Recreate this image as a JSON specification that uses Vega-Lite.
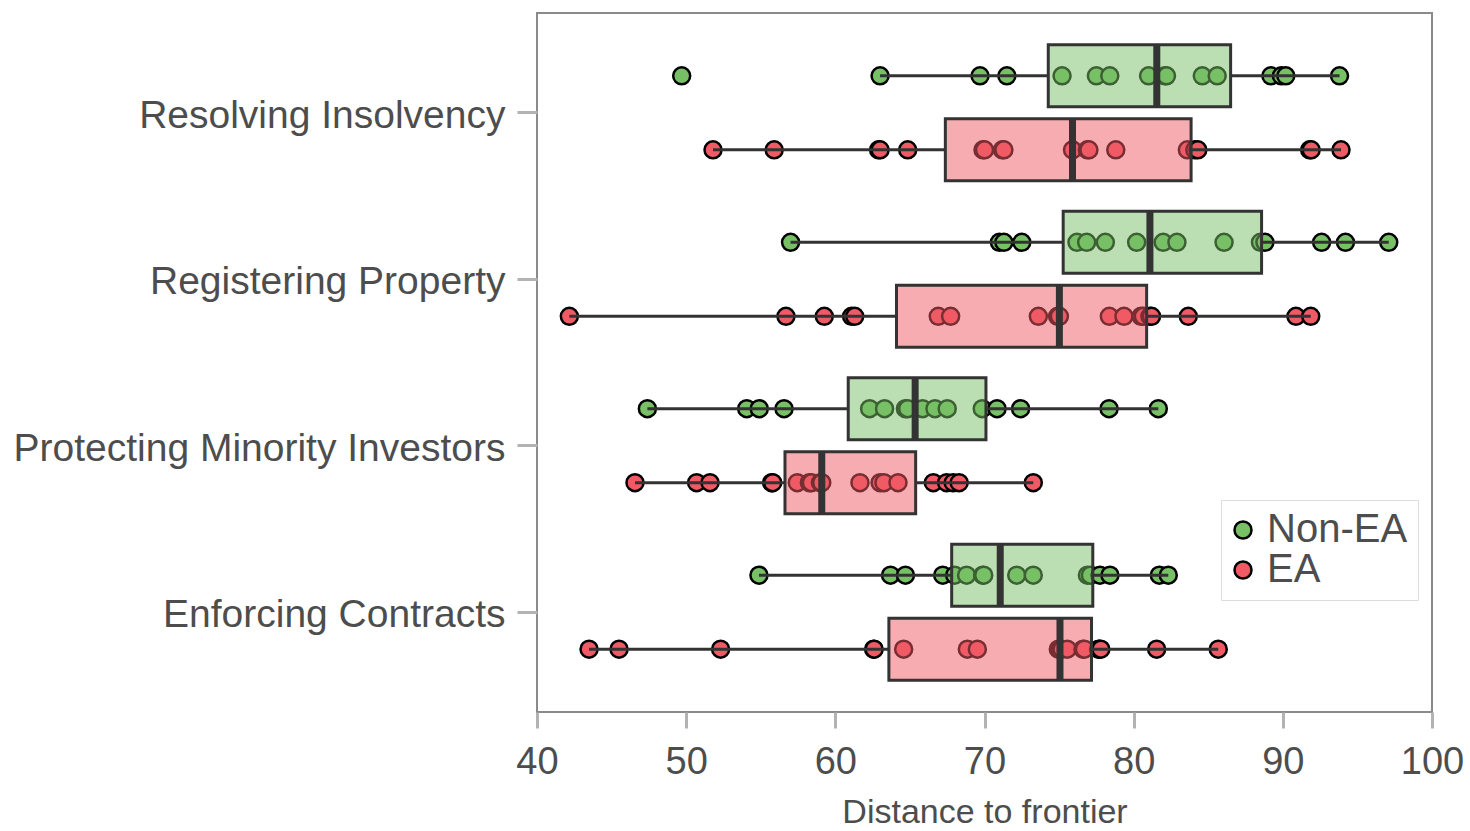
{
  "$schema": "https://vega.github.io/schema/vega-lite/v6.json",
  "autosize": {"type": "none"},
  "width": 895,
  "height": 699,
  "padding": {"left": 537, "top": 13, "right": 38, "bottom": 119},
  "background": "white",
  "config": {
    "font": "Liberation Sans",
    "view": {"stroke": "#8a8a8a", "strokeWidth": 2},
    "axis": {"grid": false, "domain": false, "tickColor": "#b3b3b3", "tickWidth": 3, "labelColor": "#4d4d4d", "labelFontSize": 38, "labelFont": "Liberation Sans", "labelLimit": 0, "labelFlush": false, "titleColor": "#4d4d4d", "titleFont": "Liberation Sans", "titleFontWeight": "normal"}
  },
  "data": {"values": [
    {"indicator": "Resolving Insolvency", "group": "Non-EA", "value": 49.7},
    {"indicator": "Resolving Insolvency", "group": "Non-EA", "value": 63.0},
    {"indicator": "Resolving Insolvency", "group": "Non-EA", "value": 69.7},
    {"indicator": "Resolving Insolvency", "group": "Non-EA", "value": 71.5},
    {"indicator": "Resolving Insolvency", "group": "Non-EA", "value": 75.2},
    {"indicator": "Resolving Insolvency", "group": "Non-EA", "value": 77.5},
    {"indicator": "Resolving Insolvency", "group": "Non-EA", "value": 78.4},
    {"indicator": "Resolving Insolvency", "group": "Non-EA", "value": 81.0},
    {"indicator": "Resolving Insolvency", "group": "Non-EA", "value": 82.1},
    {"indicator": "Resolving Insolvency", "group": "Non-EA", "value": 82.2},
    {"indicator": "Resolving Insolvency", "group": "Non-EA", "value": 84.6},
    {"indicator": "Resolving Insolvency", "group": "Non-EA", "value": 85.6},
    {"indicator": "Resolving Insolvency", "group": "Non-EA", "value": 89.2},
    {"indicator": "Resolving Insolvency", "group": "Non-EA", "value": 89.9},
    {"indicator": "Resolving Insolvency", "group": "Non-EA", "value": 90.2},
    {"indicator": "Resolving Insolvency", "group": "Non-EA", "value": 93.8},
    {"indicator": "Resolving Insolvency", "group": "EA", "value": 51.8},
    {"indicator": "Resolving Insolvency", "group": "EA", "value": 55.9},
    {"indicator": "Resolving Insolvency", "group": "EA", "value": 62.9},
    {"indicator": "Resolving Insolvency", "group": "EA", "value": 63.0},
    {"indicator": "Resolving Insolvency", "group": "EA", "value": 64.85},
    {"indicator": "Resolving Insolvency", "group": "EA", "value": 69.9},
    {"indicator": "Resolving Insolvency", "group": "EA", "value": 70.0},
    {"indicator": "Resolving Insolvency", "group": "EA", "value": 71.2},
    {"indicator": "Resolving Insolvency", "group": "EA", "value": 71.3},
    {"indicator": "Resolving Insolvency", "group": "EA", "value": 75.9},
    {"indicator": "Resolving Insolvency", "group": "EA", "value": 76.9},
    {"indicator": "Resolving Insolvency", "group": "EA", "value": 77.0},
    {"indicator": "Resolving Insolvency", "group": "EA", "value": 78.8},
    {"indicator": "Resolving Insolvency", "group": "EA", "value": 83.6},
    {"indicator": "Resolving Insolvency", "group": "EA", "value": 84.1},
    {"indicator": "Resolving Insolvency", "group": "EA", "value": 84.3},
    {"indicator": "Resolving Insolvency", "group": "EA", "value": 91.8},
    {"indicator": "Resolving Insolvency", "group": "EA", "value": 91.9},
    {"indicator": "Resolving Insolvency", "group": "EA", "value": 93.9},
    {"indicator": "Registering Property", "group": "Non-EA", "value": 57.0},
    {"indicator": "Registering Property", "group": "Non-EA", "value": 71.0},
    {"indicator": "Registering Property", "group": "Non-EA", "value": 71.3},
    {"indicator": "Registering Property", "group": "Non-EA", "value": 72.5},
    {"indicator": "Registering Property", "group": "Non-EA", "value": 76.2},
    {"indicator": "Registering Property", "group": "Non-EA", "value": 76.85},
    {"indicator": "Registering Property", "group": "Non-EA", "value": 78.1},
    {"indicator": "Registering Property", "group": "Non-EA", "value": 80.2},
    {"indicator": "Registering Property", "group": "Non-EA", "value": 81.98},
    {"indicator": "Registering Property", "group": "Non-EA", "value": 82.9},
    {"indicator": "Registering Property", "group": "Non-EA", "value": 86.06},
    {"indicator": "Registering Property", "group": "Non-EA", "value": 88.5},
    {"indicator": "Registering Property", "group": "Non-EA", "value": 88.8},
    {"indicator": "Registering Property", "group": "Non-EA", "value": 92.6},
    {"indicator": "Registering Property", "group": "Non-EA", "value": 94.2},
    {"indicator": "Registering Property", "group": "Non-EA", "value": 97.1},
    {"indicator": "Registering Property", "group": "EA", "value": 42.17},
    {"indicator": "Registering Property", "group": "EA", "value": 56.69},
    {"indicator": "Registering Property", "group": "EA", "value": 59.26},
    {"indicator": "Registering Property", "group": "EA", "value": 61.09},
    {"indicator": "Registering Property", "group": "EA", "value": 61.3},
    {"indicator": "Registering Property", "group": "EA", "value": 66.9},
    {"indicator": "Registering Property", "group": "EA", "value": 67.73},
    {"indicator": "Registering Property", "group": "EA", "value": 73.61},
    {"indicator": "Registering Property", "group": "EA", "value": 74.9},
    {"indicator": "Registering Property", "group": "EA", "value": 75.02},
    {"indicator": "Registering Property", "group": "EA", "value": 78.37},
    {"indicator": "Registering Property", "group": "EA", "value": 79.35},
    {"indicator": "Registering Property", "group": "EA", "value": 80.49},
    {"indicator": "Registering Property", "group": "EA", "value": 80.65},
    {"indicator": "Registering Property", "group": "EA", "value": 81.09},
    {"indicator": "Registering Property", "group": "EA", "value": 81.2},
    {"indicator": "Registering Property", "group": "EA", "value": 83.66},
    {"indicator": "Registering Property", "group": "EA", "value": 90.88},
    {"indicator": "Registering Property", "group": "EA", "value": 91.87},
    {"indicator": "Protecting Minority Investors", "group": "Non-EA", "value": 47.4},
    {"indicator": "Protecting Minority Investors", "group": "Non-EA", "value": 54.06},
    {"indicator": "Protecting Minority Investors", "group": "Non-EA", "value": 54.9},
    {"indicator": "Protecting Minority Investors", "group": "Non-EA", "value": 56.56},
    {"indicator": "Protecting Minority Investors", "group": "Non-EA", "value": 62.3},
    {"indicator": "Protecting Minority Investors", "group": "Non-EA", "value": 63.3},
    {"indicator": "Protecting Minority Investors", "group": "Non-EA", "value": 64.7},
    {"indicator": "Protecting Minority Investors", "group": "Non-EA", "value": 64.85},
    {"indicator": "Protecting Minority Investors", "group": "Non-EA", "value": 65.85},
    {"indicator": "Protecting Minority Investors", "group": "Non-EA", "value": 66.68},
    {"indicator": "Protecting Minority Investors", "group": "Non-EA", "value": 67.5},
    {"indicator": "Protecting Minority Investors", "group": "Non-EA", "value": 69.85},
    {"indicator": "Protecting Minority Investors", "group": "Non-EA", "value": 70.84},
    {"indicator": "Protecting Minority Investors", "group": "Non-EA", "value": 72.42},
    {"indicator": "Protecting Minority Investors", "group": "Non-EA", "value": 78.35},
    {"indicator": "Protecting Minority Investors", "group": "Non-EA", "value": 81.65},
    {"indicator": "Protecting Minority Investors", "group": "EA", "value": 46.57},
    {"indicator": "Protecting Minority Investors", "group": "EA", "value": 50.7},
    {"indicator": "Protecting Minority Investors", "group": "EA", "value": 51.6},
    {"indicator": "Protecting Minority Investors", "group": "EA", "value": 55.73},
    {"indicator": "Protecting Minority Investors", "group": "EA", "value": 55.8},
    {"indicator": "Protecting Minority Investors", "group": "EA", "value": 57.45},
    {"indicator": "Protecting Minority Investors", "group": "EA", "value": 58.26},
    {"indicator": "Protecting Minority Investors", "group": "EA", "value": 58.4},
    {"indicator": "Protecting Minority Investors", "group": "EA", "value": 59.0},
    {"indicator": "Protecting Minority Investors", "group": "EA", "value": 59.09},
    {"indicator": "Protecting Minority Investors", "group": "EA", "value": 61.65},
    {"indicator": "Protecting Minority Investors", "group": "EA", "value": 63.0},
    {"indicator": "Protecting Minority Investors", "group": "EA", "value": 63.26},
    {"indicator": "Protecting Minority Investors", "group": "EA", "value": 64.2},
    {"indicator": "Protecting Minority Investors", "group": "EA", "value": 66.57},
    {"indicator": "Protecting Minority Investors", "group": "EA", "value": 67.46},
    {"indicator": "Protecting Minority Investors", "group": "EA", "value": 67.9},
    {"indicator": "Protecting Minority Investors", "group": "EA", "value": 68.3},
    {"indicator": "Protecting Minority Investors", "group": "EA", "value": 73.27},
    {"indicator": "Enforcing Contracts", "group": "Non-EA", "value": 54.88},
    {"indicator": "Enforcing Contracts", "group": "Non-EA", "value": 63.7},
    {"indicator": "Enforcing Contracts", "group": "Non-EA", "value": 64.7},
    {"indicator": "Enforcing Contracts", "group": "Non-EA", "value": 67.2},
    {"indicator": "Enforcing Contracts", "group": "Non-EA", "value": 68.0},
    {"indicator": "Enforcing Contracts", "group": "Non-EA", "value": 68.8},
    {"indicator": "Enforcing Contracts", "group": "Non-EA", "value": 69.88},
    {"indicator": "Enforcing Contracts", "group": "Non-EA", "value": 69.95},
    {"indicator": "Enforcing Contracts", "group": "Non-EA", "value": 72.16},
    {"indicator": "Enforcing Contracts", "group": "Non-EA", "value": 73.27},
    {"indicator": "Enforcing Contracts", "group": "Non-EA", "value": 76.9},
    {"indicator": "Enforcing Contracts", "group": "Non-EA", "value": 77.1},
    {"indicator": "Enforcing Contracts", "group": "Non-EA", "value": 77.74},
    {"indicator": "Enforcing Contracts", "group": "Non-EA", "value": 78.41},
    {"indicator": "Enforcing Contracts", "group": "Non-EA", "value": 81.72},
    {"indicator": "Enforcing Contracts", "group": "Non-EA", "value": 82.32},
    {"indicator": "Enforcing Contracts", "group": "EA", "value": 43.49},
    {"indicator": "Enforcing Contracts", "group": "EA", "value": 45.5},
    {"indicator": "Enforcing Contracts", "group": "EA", "value": 52.31},
    {"indicator": "Enforcing Contracts", "group": "EA", "value": 62.57},
    {"indicator": "Enforcing Contracts", "group": "EA", "value": 62.6},
    {"indicator": "Enforcing Contracts", "group": "EA", "value": 64.58},
    {"indicator": "Enforcing Contracts", "group": "EA", "value": 68.85},
    {"indicator": "Enforcing Contracts", "group": "EA", "value": 69.52},
    {"indicator": "Enforcing Contracts", "group": "EA", "value": 74.95},
    {"indicator": "Enforcing Contracts", "group": "EA", "value": 75.06},
    {"indicator": "Enforcing Contracts", "group": "EA", "value": 75.2},
    {"indicator": "Enforcing Contracts", "group": "EA", "value": 75.55},
    {"indicator": "Enforcing Contracts", "group": "EA", "value": 76.6},
    {"indicator": "Enforcing Contracts", "group": "EA", "value": 76.7},
    {"indicator": "Enforcing Contracts", "group": "EA", "value": 77.65},
    {"indicator": "Enforcing Contracts", "group": "EA", "value": 77.7},
    {"indicator": "Enforcing Contracts", "group": "EA", "value": 77.8},
    {"indicator": "Enforcing Contracts", "group": "EA", "value": 81.54},
    {"indicator": "Enforcing Contracts", "group": "EA", "value": 85.67}
  ]},
  "layer": [
    {
      "mark": {"type": "point", "filled": true, "size": 290, "stroke": "black", "strokeWidth": 2.5, "opacity": 1},
      "encoding": {
        "y": {"field": "indicator", "type": "nominal", "sort": ["Resolving Insolvency", "Registering Property", "Protecting Minority Investors", "Enforcing Contracts"], "scale": {"type": "band", "paddingInner": 0, "paddingOuter": 0.1}, "axis": {"title": null, "tickSize": 20, "labelPadding": 12, "labelFontSize": 39, "labelOffset": 3}},
        "yOffset": {"field": "group", "type": "nominal", "sort": ["Non-EA", "EA"], "scale": {"paddingInner": 0.162, "paddingOuter": 0.2055}},
        "x": {"field": "value", "type": "quantitative", "title": "Distance to frontier", "scale": {"domain": [40, 100], "nice": false, "zero": false}, "axis": {"values": [40, 50, 60, 70, 80, 90, 100], "tickSize": 16, "labelPadding": 15, "titleFontSize": 34, "titlePadding": 14}},
        "fill": {"field": "group", "type": "nominal", "scale": {"domain": ["Non-EA", "EA"], "range": ["#77c066", "#f05a64"]},
          "legend": {"orient": "none", "legendX": 684, "legendY": 487, "title": null, "labelFontSize": 40, "labelColor": "#4d4d4d", "labelFont": "Liberation Sans", "symbolType": "circle", "symbolSize": 290, "symbolStrokeColor": "black", "symbolStrokeWidth": 2.5, "symbolOpacity": 1, "symbolOffset": -8, "strokeColor": "#dddddd", "fillColor": "white", "padding": 10, "rowPadding": -10, "labelOffset": 4}}
      }
    },
    {
      "mark": {"type": "boxplot", "extent": 1.5, "size": 62, "outliers": false,
        "box": {"stroke": "#333333", "strokeWidth": 3, "fillOpacity": 0.5},
        "median": {"color": "#333333", "thickness": 7, "opacity": 1},
        "rule": {"color": "#333333", "strokeWidth": 3}},
      "encoding": {
        "y": {"field": "indicator", "type": "nominal", "sort": ["Resolving Insolvency", "Registering Property", "Protecting Minority Investors", "Enforcing Contracts"]},
        "yOffset": {"field": "group", "type": "nominal", "sort": ["Non-EA", "EA"]},
        "x": {"field": "value", "type": "quantitative", "title": "Distance to frontier"},
        "color": {"field": "group", "type": "nominal", "scale": {"domain": ["Non-EA", "EA"], "range": ["#77c066", "#f05a64"]}, "legend": null}
      }
    }
  ]
}
